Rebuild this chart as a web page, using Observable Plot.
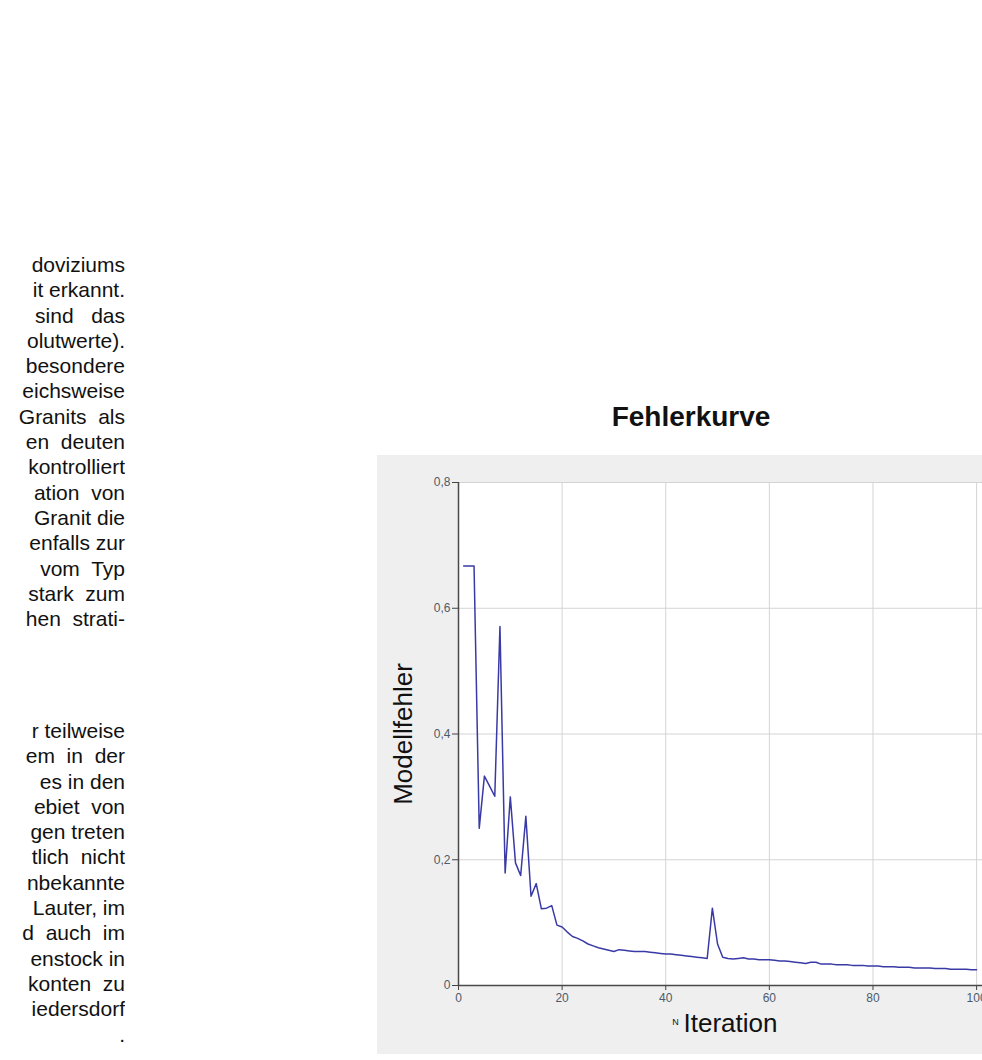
<!DOCTYPE html>
<html><head><meta charset="utf-8">
<script src="https://cdn.jsdelivr.net/npm/d3@7"></script>
<script src="https://cdn.jsdelivr.net/npm/@observablehq/plot@0.6"></script>
<style>
html,body{margin:0;padding:0;background:#fff;width:982px;height:1060px;overflow:hidden;font-family:"Liberation Sans",Arial,sans-serif;}
.blk{position:absolute;left:0;width:125px;font-size:21px;line-height:25.3px;color:#111;overflow:hidden;}
.ln{white-space:pre;text-align:right;}
#title{position:absolute;left:491px;width:400px;top:403px;text-align:center;font-weight:bold;font-size:28px;line-height:28px;color:#111;}
#chart{position:absolute;left:377px;top:455px;width:605px;height:599px;overflow:hidden;}
#chart svg{max-width:none !important;}
</style></head>
<body>
<div id="blk1" class="blk" style="top:252px"></div>
<div id="blk2" class="blk" style="top:718px"></div>
<div id="title">Fehlerkurve</div>
<div id="chart"></div>
<script>
// Left page text (visible line fragments, as justified in the scan)
const textBlock1 = ["doviziums","it erkannt.","sind   das","olutwerte).","besondere","eichsweise","Granits  als","en  deuten","kontrolliert","ation  von"," Granit die","enfalls zur"," vom  Typ","stark  zum","hen  strati-"];
const textBlock2 = ["r teilweise","em  in  der","es in den","ebiet  von","gen treten","tlich  nicht","nbekannte","Lauter, im","d  auch  im","enstock in","konten  zu","iedersdorf","."];

// Chart texts
const chartTitle = "Fehlerkurve";
const xLabel = "Iteration";
const yLabel = "Modellfehler";

// Series
const iterations = [1,2,3,4,5,6,7,8,9,10,11,12,13,14,15,16,17,18,19,20,21,22,23,24,25,26,27,28,29,30,31,32,33,34,35,36,37,38,39,40,41,42,43,44,45,46,47,48,49,50,51,52,53,54,55,56,57,58,59,60,61,62,63,64,65,66,67,68,69,70,71,72,73,74,75,76,77,78,79,80,81,82,83,84,85,86,87,88,89,90,91,92,93,94,95,96,97,98,99,100];
const errors = [0.667,0.667,0.667,0.250,0.333,0.317,0.301,0.571,0.179,0.300,0.195,0.175,0.269,0.142,0.162,0.122,0.123,0.127,0.096,0.093,0.085,0.078,0.075,0.071,0.066,0.063,0.060,0.058,0.056,0.054,0.057,0.056,0.055,0.054,0.054,0.054,0.053,0.052,0.051,0.050,0.050,0.049,0.048,0.047,0.046,0.045,0.044,0.043,0.123,0.066,0.045,0.043,0.042,0.043,0.044,0.042,0.042,0.041,0.041,0.041,0.040,0.039,0.039,0.038,0.037,0.036,0.035,0.037,0.037,0.034,0.034,0.034,0.033,0.033,0.033,0.032,0.032,0.032,0.031,0.031,0.031,0.030,0.030,0.030,0.029,0.029,0.029,0.028,0.028,0.028,0.028,0.027,0.027,0.027,0.026,0.026,0.026,0.026,0.025,0.025];

// Ticks
const xTicks = [0,20,40,60,80,100];
const yTicks = [0,0.2,0.4,0.6,0.8];
const yTickLabels = ["0","0,2","0,4","0,6","0,8"];

function fillBlock(id, lines){
  const el = document.getElementById(id);
  for (const line of lines){
    const div = document.createElement("div");
    div.className = "ln";
    div.textContent = line;
    el.appendChild(div);
  }
}
fillBlock("blk1", textBlock1);
fillBlock("blk2", textBlock2);
document.getElementById("title").textContent = chartTitle;

const data = iterations.map((it, i) => ({it, err: errors[i]}));
const fmt = d => yTickLabels[yTicks.findIndex(t => Math.abs(t - d) < 1e-9)];

const chart = Plot.plot({
  width: 660,
  height: 599,
  marginLeft: 81,
  marginRight: 35,
  marginTop: 27,
  marginBottom: 69,
  style: {background: "#efefef", fontFamily: "'Liberation Sans', Arial, sans-serif", color: "#222", maxWidth: "none"},
  x: {domain: [0, 105]},
  y: {domain: [0, 0.8]},
  marks: [
    Plot.frame({fill: "white", stroke: null}),
    Plot.gridX({ticks: xTicks, stroke: "#d4d4d4", strokeOpacity: 1}),
    Plot.gridY({ticks: yTicks, stroke: "#d4d4d4", strokeOpacity: 1}),
    Plot.axisY({ticks: yTicks, tickFormat: fmt, tickSize: 6, tickPadding: 2, fontSize: 12, stroke: "#444", fill: "#4d5a6a", label: null}),
    Plot.axisX({ticks: xTicks, tickSize: 5, tickPadding: 3, fontSize: 12, stroke: "#444", fill: "#4d5a6a", label: null}),
    Plot.ruleX([0], {stroke: "#4a4a4a", strokeWidth: 1.5}),
    Plot.ruleY([0], {stroke: "#4a4a4a", strokeWidth: 1.5}),
    Plot.line(data, {x: "it", y: "err", stroke: "#3a3aa6", strokeWidth: 1.5}),
    Plot.text([xLabel], {text: d => d, frameAnchor: "bottom", dy: 46, fontSize: 26, fill: "#111"}),
    Plot.text(["N"], {text: d => d, frameAnchor: "bottom", dx: -55, dy: 39, fontSize: 9, fill: "#111"}),
    Plot.text([yLabel], {text: d => d, frameAnchor: "left", textAnchor: "middle", dx: -55, rotate: -90, fontSize: 26, fill: "#111"})
  ]
});
chart.style.maxWidth = "none";
document.getElementById("chart").appendChild(chart);
</script>
</body></html>
